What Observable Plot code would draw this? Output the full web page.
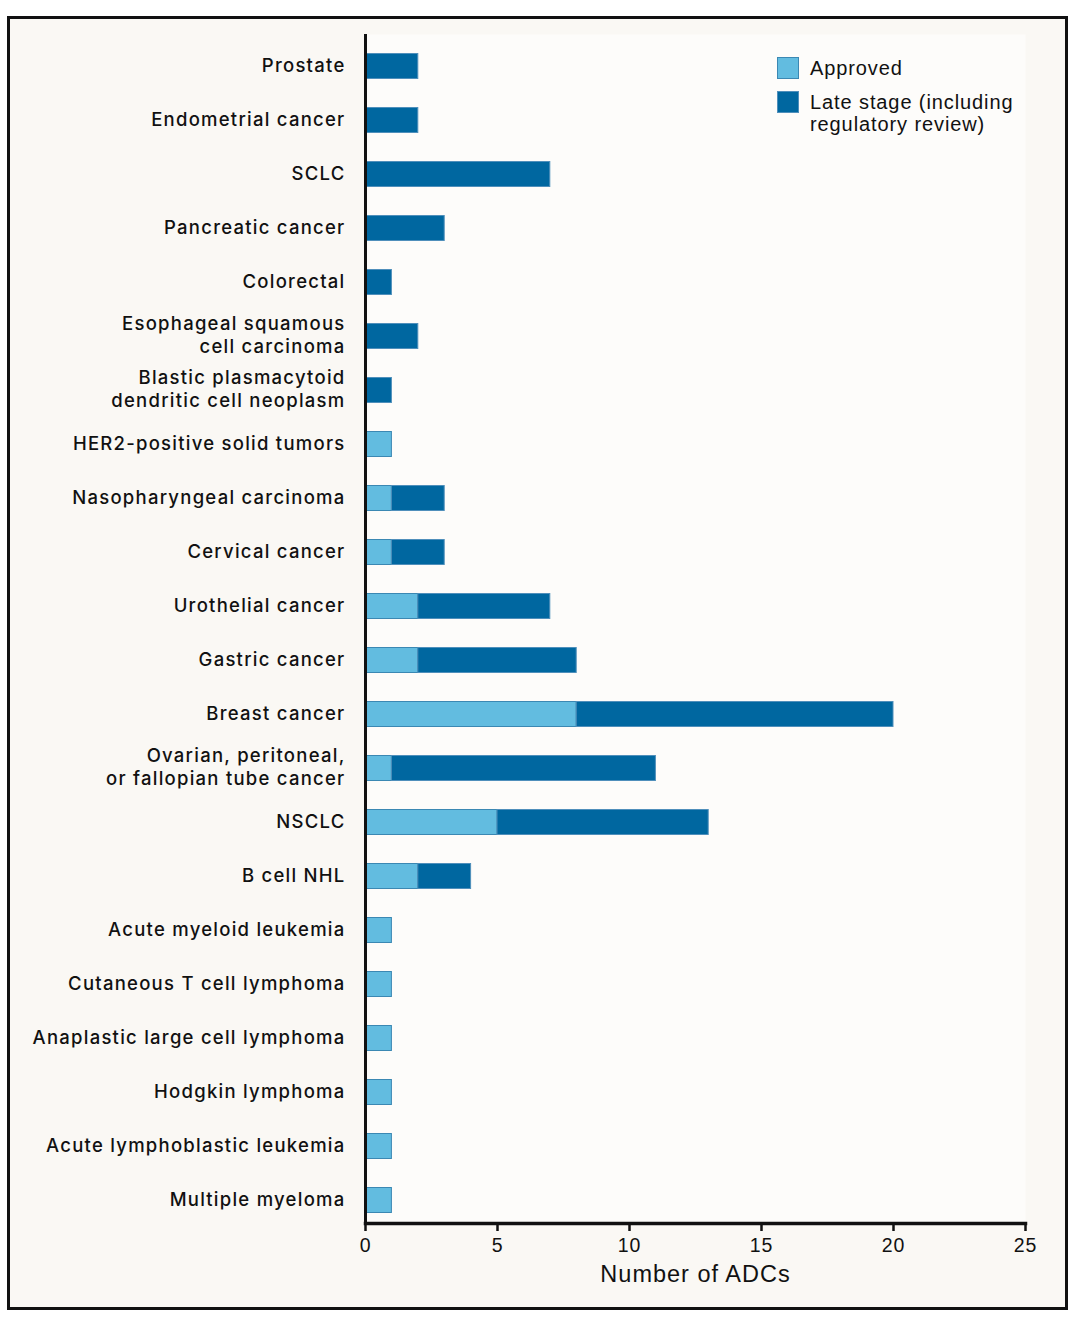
<!DOCTYPE html>
<html>
<head>
<meta charset="utf-8">
<script src="https://cdn.jsdelivr.net/npm/d3@7"></script>
<script src="https://cdn.jsdelivr.net/npm/@observablehq/plot@0.6"></script>
<style>
  body { margin: 0; background: #ffffff; }
  #wrap { position: relative; width: 1080px; height: 1321px; overflow: hidden; }
  #box { position: absolute; left: 7px; top: 16px; width: 1055px; height: 1288px; border: 3px solid #111; background: #faf8f4; }
  #chart { position: absolute; left: 0; top: 0; }
  #legend { position: absolute; left: 777px; top: 57px; font-family: "Liberation Sans", Arial, sans-serif; font-size: 20px; color: #111; letter-spacing: 0.9px; }
  .li { display: flex; align-items: flex-start; margin-bottom: 11px; }
  .sw { width: 22px; height: 22px; box-sizing: border-box; border: 1px solid #3b88b3; margin-right: 11px; flex: none; }
  .lt { line-height: 22.5px; margin-top: 0px; }
  .ylab text { letter-spacing: 1.25px; }
  .xlab text { letter-spacing: 0.8px; }
  .xtitle text { letter-spacing: 1px; }
</style>
</head>
<body>
<div id="wrap">
  <div id="box"></div>
  <div id="chart"></div>
  <div id="legend"></div>
</div>
<script>
const categories = [
  "Prostate",
  "Endometrial cancer",
  "SCLC",
  "Pancreatic cancer",
  "Colorectal",
  "Esophageal squamous\ncell carcinoma",
  "Blastic plasmacytoid\ndendritic cell neoplasm",
  "HER2-positive solid tumors",
  "Nasopharyngeal carcinoma",
  "Cervical cancer",
  "Urothelial cancer",
  "Gastric cancer",
  "Breast cancer",
  "Ovarian, peritoneal,\nor fallopian tube cancer",
  "NSCLC",
  "B cell NHL",
  "Acute myeloid leukemia",
  "Cutaneous T cell lymphoma",
  "Anaplastic large cell lymphoma",
  "Hodgkin lymphoma",
  "Acute lymphoblastic leukemia",
  "Multiple myeloma"
];
const approved  = [0,0,0,0,0,0,0,1,1,1,2,2,8,1,5,2,1,1,1,1,1,1];
const lateStage = [2,2,7,3,1,2,1,0,2,2,5,6,12,10,8,2,0,0,0,0,0,0];
const stages = ["Approved", "Late stage (including\nregulatory review)"];
const stageColors = ["#62bce0", "#0067a0"];
const stageStrokes = ["#3b88b3", "#4f8fbb"];
const xTicks = [0, 5, 10, 15, 20, 25];
const xLabel = "Number of ADCs";

const rows = [];
categories.forEach((c, i) => {
  if (approved[i] > 0) rows.push({category: c, stage: stages[0], value: approved[i]});
  if (lateStage[i] > 0) rows.push({category: c, stage: stages[1], value: lateStage[i]});
});

const plot = Plot.plot({
  width: 1080,
  height: 1321,
  marginLeft: 365,
  marginRight: 55,
  marginTop: 34,
  marginBottom: 98,
  style: { background: "transparent", fontFamily: "'Liberation Sans', Arial, sans-serif", overflow: "visible" },
  x: { domain: [0, 25], axis: null },
  y: { domain: categories, range: [39, 1227], paddingInner: 0.52, paddingOuter: 0.26, axis: null },
  color: { domain: stages, range: stageColors },
  marks: [
    Plot.frame({ fill: "#fdfcfa", stroke: "none" }),
    Plot.barX(rows, Plot.stackX({
      x: "value", y: "category", fill: "stage",
      stroke: d => d.stage === stages[0] ? stageStrokes[0] : stageStrokes[1],
      strokeWidth: 1, insetTop: 0.5, insetBottom: 0.5
    })),
    Plot.axisY({
      tickSize: 0, tickPadding: 20, fontSize: 18.5, fontWeight: 500, lineHeight: 1.22,
      fill: "#111", label: null, className: "ylab", dy: -2,
      fontFamily: "Inter, 'Liberation Sans', sans-serif"
    }),
    Plot.axisX({
      ticks: xTicks, tickSize: 8, tickPadding: 7, fontSize: 19.5, stroke: "#111", strokeWidth: 2.5,
      fill: "#111", label: null, className: "xlab"
    }),
    Plot.frame({ anchor: "bottom", stroke: "#111", strokeWidth: 3.5 }),
    Plot.ruleX([0], { stroke: "#111", strokeWidth: 3 }),
    Plot.text([xLabel], { frameAnchor: "bottom", dy: 58, fontSize: 23.5, fill: "#111", className: "xtitle" })
  ]
});
document.getElementById("chart").appendChild(plot);

const legend = document.getElementById("legend");
stages.forEach((s, i) => {
  const li = document.createElement("div");
  li.className = "li";
  const sw = document.createElement("div");
  sw.className = "sw";
  sw.style.background = stageColors[i];
  sw.style.borderColor = stageStrokes[i];
  const t = document.createElement("div");
  t.className = "lt";
  t.innerHTML = s.split("\n").join("<br>");
  li.appendChild(sw); li.appendChild(t);
  legend.appendChild(li);
});
</script>
</body>
</html>
